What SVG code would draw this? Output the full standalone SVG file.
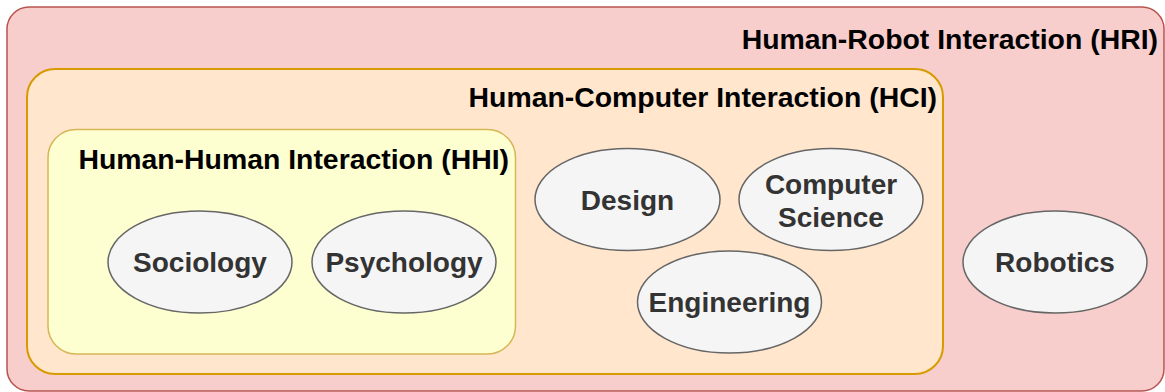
<svg xmlns="http://www.w3.org/2000/svg" width="1165" height="392" viewBox="0 0 1165 392">
<style>
.title{font-family:"Liberation Sans",Arial,sans-serif;font-weight:bold;font-size:28.4px;fill:#000000;text-anchor:end}
.lbl{font-family:"Liberation Sans",Arial,sans-serif;font-weight:bold;font-size:28px;fill:#333333;text-anchor:middle}
.ell{fill:#f5f5f5;stroke:#666666;stroke-width:1.5}
</style>
<rect width="1165" height="392" fill="#ffffff"/>
<g id="hri">
<rect x="7" y="7" width="1157" height="384" rx="22" ry="22" fill="#f8cecc" stroke="#b85450" stroke-width="1.5"/>
<text class="title" x="1158" y="48.5">Human-Robot Interaction (HRI)</text>
</g>
<g id="hci">
<rect x="27" y="69" width="916" height="305" rx="28" ry="28" fill="#ffe6cc" stroke="#d79b00" stroke-width="2"/>
<text class="title" x="937" y="106.5">Human-Computer Interaction (HCI)</text>
</g>
<g id="hhi">
<rect x="48" y="129.5" width="467.5" height="224.5" rx="28" ry="28" fill="#fdffd0" stroke="#d6b656" stroke-width="1.5"/>
<text class="title" x="509" y="168.5">Human-Human Interaction (HHI)</text>
</g>
<g id="sociology">
<ellipse class="ell" cx="200" cy="262" rx="92" ry="51"/>
<text class="lbl" x="200" y="272">Sociology</text>
</g>
<g id="psychology">
<ellipse class="ell" cx="404" cy="262" rx="92" ry="51"/>
<text class="lbl" x="404" y="272">Psychology</text>
</g>
<g id="design">
<ellipse class="ell" cx="627.5" cy="199.5" rx="92.5" ry="51"/>
<text class="lbl" x="627.5" y="210">Design</text>
</g>
<g id="computer-science">
<ellipse class="ell" cx="831" cy="199.5" rx="92" ry="51"/>
<text class="lbl" x="831" y="193.5">Computer</text>
<text class="lbl" x="831" y="227">Science</text>
</g>
<g id="engineering">
<ellipse class="ell" cx="729.5" cy="302" rx="92" ry="51"/>
<text class="lbl" x="729.5" y="312">Engineering</text>
</g>
<g id="robotics">
<ellipse class="ell" cx="1055" cy="262" rx="92" ry="51"/>
<text class="lbl" x="1055" y="272">Robotics</text>
</g>
<g id="connectors"></g>
</svg>
